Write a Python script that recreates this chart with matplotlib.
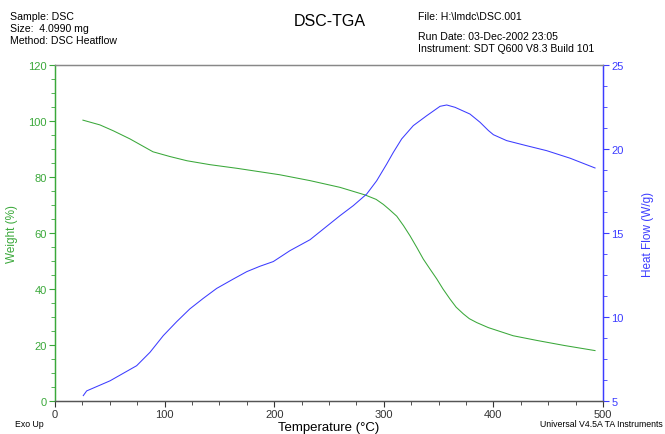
import matplotlib
matplotlib.use("Agg")
import matplotlib.pyplot as plt
from matplotlib.ticker import MultipleLocator

plt.rcParams['font.family'] = ['Liberation Sans', 'DejaVu Sans']

# Weight (%) curve
w_temp = [25.5, 41, 53.2, 68.4, 89.4, 104.9, 120.4, 141.4, 166, 205, 232.7, 260, 282.8, 293, 299.6, 305,
          311.8, 318, 323.9, 330, 336, 342, 348.3, 354, 360.4, 366, 372.6, 378, 384.8, 395.4, 418, 440, 465, 492.7]
w_val = [100.3, 98.6, 96.5, 93.6, 89.0, 87.3, 85.8, 84.4, 83.1, 80.8, 78.7, 76.3, 73.6, 72.0, 70.2, 68.4,
         66.0, 62.6, 59.0, 54.9, 50.7, 47.2, 43.6, 40.0, 36.4, 33.5, 31.1, 29.4, 28.0, 26.2, 23.3, 21.6, 19.8, 18.0]

# Heat flow (W/g) curve
h_temp = [25.8, 28.9, 50.2, 74.5, 86.7, 98.8, 111, 123, 135.3, 147.5, 162.7, 175, 187, 199.2, 214.4, 232.7,
          260, 272.2, 284.4, 293.5, 302.6, 308.7, 316.3, 326.9, 339.1, 351.3, 357.4, 365, 378.6, 387.8,
          395.4, 400, 412, 430, 448.6, 470, 492.7]
h_val = [5.32, 5.6, 6.2, 7.1, 7.9, 8.89, 9.72, 10.48, 11.11, 11.7, 12.26, 12.7, 13.02, 13.3, 13.95, 14.6,
         16.03, 16.63, 17.32, 18.11, 19.1, 19.8, 20.6, 21.39, 21.98, 22.54, 22.62, 22.48, 22.08, 21.59,
         21.1, 20.85, 20.5, 20.2, 19.9, 19.45, 18.87]

green = "#3aa83a"
blue = "#3c3cff"

fig = plt.figure(figsize=(6.65, 4.35), dpi=100)
ax = fig.add_axes([0.0827, 0.0759, 0.9068 - 0.0827, 0.8483 - 0.0759])
ax2 = ax.twinx()

ax.plot(w_temp, w_val, color=green, lw=0.75)
ax2.plot(h_temp, h_val, color=blue, lw=0.75)

ax.set_xlim(0, 500)
ax.set_ylim(0, 120)
ax2.set_ylim(5, 25)

ax.xaxis.set_major_locator(MultipleLocator(100))
ax.xaxis.set_minor_locator(MultipleLocator(25))
ax.yaxis.set_major_locator(MultipleLocator(20))
ax.yaxis.set_minor_locator(MultipleLocator(5))
ax2.yaxis.set_major_locator(MultipleLocator(5))
ax2.yaxis.set_minor_locator(MultipleLocator(1.25))

for a in (ax, ax2):
    a.spines['top'].set_color('#888888')
    a.spines['bottom'].set_color('#555555')
    a.spines['left'].set_color(green)
    a.spines['right'].set_color(blue)
    for s in a.spines.values():
        s.set_linewidth(0.9)

ax.tick_params(axis='x', which='both', direction='out', colors='#333333', labelsize=8, length=3, pad=2)
ax.tick_params(axis='x', which='major', length=4)
ax.tick_params(axis='y', which='both', colors=green, labelcolor=green, labelsize=8, length=3, pad=2)
ax.tick_params(axis='y', which='major', length=4)
ax2.tick_params(axis='y', which='both', colors=blue, labelcolor=blue, labelsize=8, length=3, pad=2)
ax2.tick_params(axis='y', which='major', length=4)

ax.set_ylabel("Weight (%)", color=green, fontsize=8.5)
ax2.set_ylabel("Heat Flow (W/g)", color=blue, fontsize=8.5)
ax.set_xlabel("Temperature (°C)", fontsize=9.5)
ax.yaxis.set_label_coords(-0.068, 0.5)
ax2.yaxis.set_label_coords(1.071, 0.5)
ax.xaxis.set_label_coords(0.5, -0.077)
ax.xaxis.label.set_va('center')

fs = 7.6
fig.text(10 / 665, 1 - 17 / 435, "Sample: DSC", fontsize=fs, va='center')
fig.text(10 / 665, 1 - 29 / 435, "Size:  4.0990 mg", fontsize=fs, va='center')
fig.text(10 / 665, 1 - 41 / 435, "Method: DSC Heatflow", fontsize=fs, va='center')
fig.text(330 / 665, 1 - 21 / 435, "DSC-TGA", fontsize=11.5, va='center', ha='center')
fig.text(418 / 665, 1 - 17 / 435, "File: H:\\lmdc\\DSC.001", fontsize=fs, va='center')
fig.text(418 / 665, 1 - 37 / 435, "Run Date: 03-Dec-2002 23:05", fontsize=fs, va='center')
fig.text(418 / 665, 1 - 49 / 435, "Instrument: SDT Q600 V8.3 Build 101", fontsize=fs, va='center')
fig.text(15 / 665, 1 - 425 / 435, "Exo Up", fontsize=6.3, va='center')
fig.text(663 / 665, 1 - 425 / 435, "Universal V4.5A TA Instruments", fontsize=6.3, va='center', ha='right')

fig.savefig("out.png", dpi=100)
